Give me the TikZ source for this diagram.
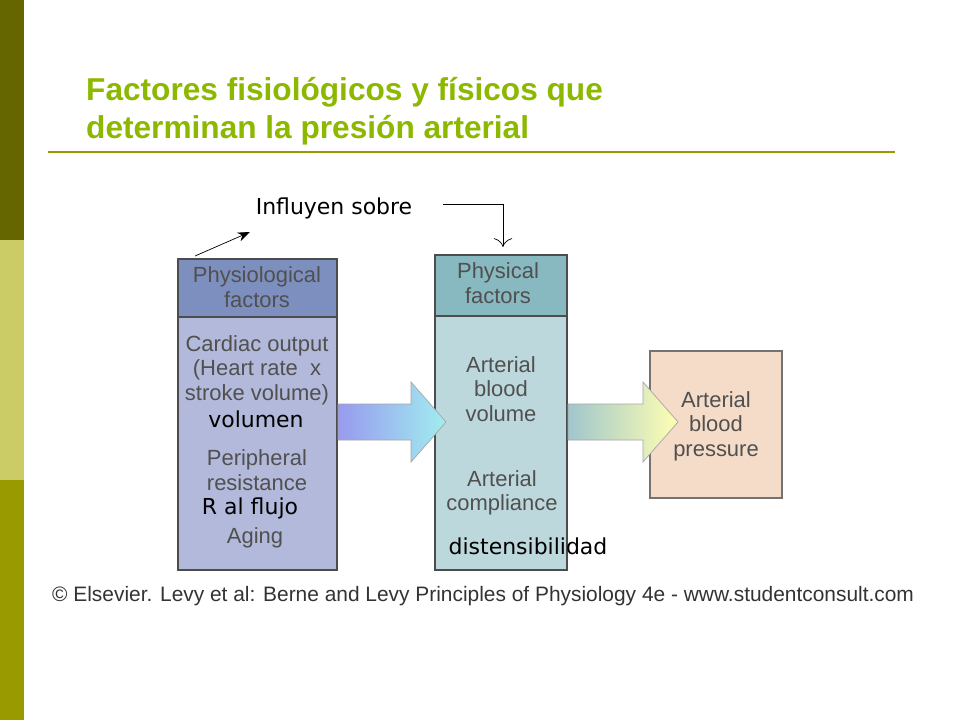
\documentclass[tikz,border=0pt]{standalone}
\usepackage{fontspec}
\setmainfont{Liberation Sans}
\newfontfamily\verd{DejaVu Sans}
\usetikzlibrary{positioning,arrows.meta}
\definecolor{olivedark}{HTML}{666600}
\definecolor{olivelight}{HTML}{CCCC66}
\definecolor{olivemid}{HTML}{999900}
\definecolor{titlegreen}{HTML}{8DB800}
\definecolor{physhead}{HTML}{7D8FBE}
\definecolor{physbody}{HTML}{B2B9DA}
\definecolor{fishead}{HTML}{88B8C0}
\definecolor{fisbody}{HTML}{BDD8DC}
\definecolor{presbody}{HTML}{F5DCC8}
\definecolor{boxtext}{HTML}{505050}
\tikzset{
  boxline/.style={draw=black!70, line width=1.2pt},
  boxlabel/.style={font=\fontsize{12.5}{14}\selectfont, text=boxtext, align=center},
  overlay/.style={font=\verd\fontsize{12.5}{14}\selectfont, text=black},
  flowline/.style={draw=black!35, thin},
}
% flow arrow: start x, tip x, centre y
\newcommand\flowarrow[4]{%
  \draw[flowline, shade, #4]
    (#1,#3-18) -- (#2-35,#3-18) -- (#2-35,#3-40) -- (#2,#3) -- (#2-35,#3+40)
    -- (#2-35,#3+18) -- (#1,#3+18) -- cycle;}
\begin{document}
\begin{tikzpicture}[x=0.02cm, y=-0.02cm]
  \useasboundingbox (0,0) rectangle (960,720);
  \fill[white] (0,0) rectangle (960,720);
  % side bar
  \fill[olivedark] (0,0) rectangle (24,240);
  \fill[olivelight] (0,240) rectangle (24,480);
  \fill[olivemid] (0,480) rectangle (24,720);
  % title
  \node[anchor=west, font=\bfseries\fontsize{18}{21.5}\selectfont, text=titlegreen, align=left]
    (title) at (80,111) {Factores fisiológicos y físicos que\\determinan la presión arterial};
  \draw[olivemid, line width=1.2pt] (48,152) -- (895,152);
  % boxes
  \fill[physbody] (178,317) rectangle (337,570);
  \fill[physhead] (178,259) rectangle (337,317);
  \draw[boxline] (178,259) rectangle (337,570) (178,317) -- (337,317);
  \fill[fisbody] (435,316) rectangle (567,570);
  \fill[fishead] (435,255) rectangle (567,316);
  \draw[boxline] (435,255) rectangle (567,570) (435,316) -- (567,316);
  \fill[presbody] (650,351) rectangle (782,498);
  \draw[boxline, draw=black!55] (650,351) rectangle (782,498);
  % flow arrows
  \flowarrow{338}{446}{422}{left color=physbody!60!blue!70, right color=fishead!50!cyan!50}
  \flowarrow{568}{678}{422}{left color=fishead!80, right color=yellow!30}
  % box texts
  \node[boxlabel] (physio) at (257,287) {Physiological\\factors};
  \node[boxlabel] (cardiac) at (257,370) {Cardiac output\\(Heart rate~~x\\stroke volume)};
  \node[boxlabel] (periph) at (257,470) {Peripheral\\resistance};
  \node[boxlabel] (aging) at (255,538) {Aging};
  \node[boxlabel] (physical) at (498,283) {Physical\\factors};
  \node[boxlabel] (abv) at (501,389) {Arterial\\blood\\volume};
  \node[boxlabel] (compl) at (502,493) {Arterial\\compliance};
  \node[boxlabel] (abp) at (716,426) {Arterial\\blood\\pressure};
  % spanish overlays
  \node[overlay] (volumen) at (256,419) {volumen};
  \node[overlay] (rflujo) at (250,508) {R al flujo};
  \node[overlay] (disten) at (528,546) {distensibilidad};
  \node[overlay] (influyen) at (334,208) {Influyen sobre};
  \coordinate (pa) at (195,256);
  \coordinate (pb) at (250,232);
  \draw[-{Stealth[length=7pt]}, thin] (pa) -- (pb);
  \coordinate (qa) at (443,204);
  \coordinate (qb) at (503,247);
  \draw[-{To[length=5pt]}, thin] (qa) -| (qb);
  % footer
  \node[anchor=west, font=\fontsize{11.9}{13}\selectfont, text=black!80] (credit) at (46,596)
    {© Elsevier. Levy et al: Berne and Levy Principles of Physiology 4e - www.studentconsult.com};
\end{tikzpicture}
\end{document}
